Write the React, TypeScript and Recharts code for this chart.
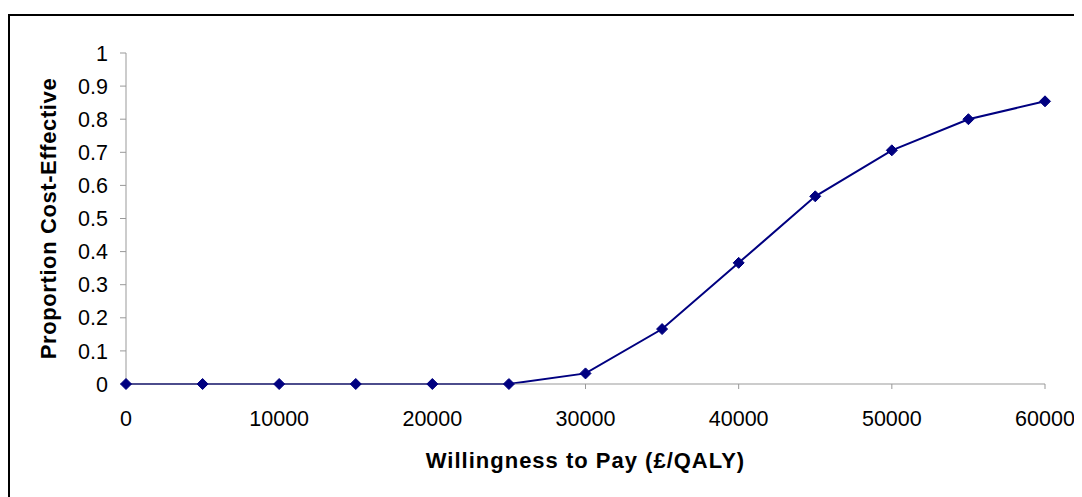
import { LineChart, Line, XAxis, YAxis, Label } from "recharts";

// willingness to pay thresholds (£/QALY)
const wtp = [0, 5000, 10000, 15000, 20000, 25000, 30000, 35000, 40000, 45000, 50000, 55000, 60000];
// proportion of simulations cost-effective at each threshold
const proportion = [0, 0, 0, 0, 0, 0, 0.032, 0.166, 0.366, 0.567, 0.706, 0.8, 0.854];

const xTicks = [0, 10000, 20000, 30000, 40000, 50000, 60000];
const yTicks = [0, 0.1, 0.2, 0.3, 0.4, 0.5, 0.6, 0.7, 0.8, 0.9, 1];

const data = wtp.map((w, i) => ({ wtp: w, proportion: proportion[i] }));

const font = "'Liberation Sans', Arial, sans-serif";

const Diamond = (props: any) => {
  const { cx, cy } = props;
  if (cx == null || cy == null) return null;
  const r = 5.5;
  return (
    <polygon
      points={`${cx},${cy - r} ${cx + r},${cy} ${cx},${cy + r} ${cx - r},${cy}`}
      fill="#000080"
      stroke="#000080"
    />
  );
};

export default function App() {
  return (
    <div style={{ position: "relative", width: 1074, height: 489, fontFamily: font, overflow: "visible" }}>
      {/* outer frame, right and bottom edges run off the page */}
      <div
        style={{
          position: "absolute",
          left: 0,
          top: 6,
          width: 1100,
          height: 500,
          border: "2px solid #000",
        }}
      />
      <div style={{ position: "absolute", left: -8, top: -8 }}>
        <LineChart
          width={1082}
          height={497}
          data={data}
          margin={{ top: 53, right: 37, left: 0, bottom: 0 }}
        >
          <XAxis
            dataKey="wtp"
            type="number"
            domain={[0, 60000]}
            ticks={xTicks}
            height={113}
            tickSize={5}
            tickMargin={22}
            stroke="#999"
            tick={{ fill: "#000", fontSize: 21.5, fontFamily: font }}
          >
            <Label
              value="Willingness to Pay (£/QALY)"
              position="insideBottom"
              offset={29}
              style={{ fill: "#000", fontSize: 22, fontWeight: "bold", letterSpacing: 1, fontFamily: font }}
            />
          </XAxis>
          <YAxis
            type="number"
            domain={[0, 1]}
            ticks={yTicks}
            width={126}
            tickSize={6}
            tickMargin={12}
            stroke="#999"
            tick={{ fill: "#000", fontSize: 21.5, fontFamily: font }}
          >
            <Label
              value="Proportion Cost-Effective"
              angle={-90}
              position="insideLeft"
              offset={48}
              style={{ textAnchor: "middle", fill: "#000", fontSize: 22, fontWeight: "bold", letterSpacing: 0.6, fontFamily: font }}
            />
          </YAxis>
          <Line
            type="linear"
            dataKey="proportion"
            stroke="#000080"
            strokeWidth={2}
            dot={<Diamond />}
            isAnimationActive={false}
          />
        </LineChart>
      </div>
    </div>
  );
}
